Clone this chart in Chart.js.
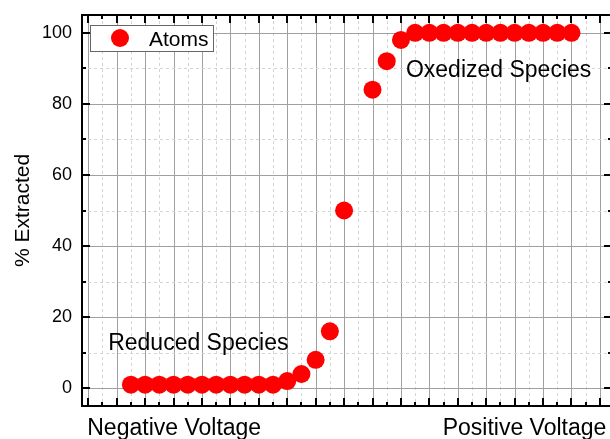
<!DOCTYPE html>
<html>
<head>
<meta charset="utf-8">
<script src="https://cdn.jsdelivr.net/npm/chart.js@4/dist/chart.umd.min.js"></script>
<style>
  html, body { margin: 0; padding: 0; background: #fff; overflow: hidden; }
  #wrap { width: 622px; height: 439px; }
</style>
</head>
<body>
<div id="wrap"><canvas id="chart" width="622" height="439"></canvas></div>
<script>
// data (x = voltage step, no point at step 19)
const voltageSteps = [3, 4, 5, 6, 7, 8, 9, 10, 11, 12, 13, 14, 15, 16, 17, 18,
                      20, 21, 22, 23, 24, 25, 26, 27, 28, 29, 30, 31, 32, 33, 34];
const extracted = [1, 1, 1, 1, 1, 1, 1, 1, 1, 1, 1, 2, 4, 8, 16, 50,
                   84, 92, 98, 100, 100, 100, 100, 100, 100, 100, 100, 100, 100, 100, 100];
const yTicks = [0, 20, 40, 60, 80, 100];
const seriesName = "Atoms";
const axisEnds = ["Negative Voltage", "Positive Voltage"];
const notes = [
  { text: "Reduced Species", x: 1.4, y: 10.7 },
  { text: "Oxedized Species", x: 22.35, y: 87.5 }
];

const FONT = "'Liberation Sans', Arial, sans-serif";

// grid, inward ticks, frame, legend box and text labels
const frame = {
  id: "frame",
  beforeDatasetsDraw(chart) {
    const { ctx, chartArea: a, scales: { x, y } } = chart;
    ctx.save();
    ctx.lineWidth = 1;
    // vertical grid
    for (let v = 0; v <= 36; v++) {
      const px = Math.round(x.getPixelForValue(v)) + 0.5;
      ctx.beginPath();
      if (v % 2 === 0) { ctx.strokeStyle = "#a0a0a0"; ctx.setLineDash([]); }
      else { ctx.strokeStyle = "#d4d4d4"; ctx.setLineDash([3, 3]); }
      ctx.moveTo(px, a.top);
      ctx.lineTo(px, a.bottom);
      ctx.stroke();
    }
    // horizontal grid
    for (let v = 0; v <= 100; v += 10) {
      const py = Math.round(y.getPixelForValue(v)) + 0.5;
      ctx.beginPath();
      if (v % 20 === 0) { ctx.strokeStyle = "#a0a0a0"; ctx.setLineDash([]); }
      else { ctx.strokeStyle = "#d4d4d4"; ctx.setLineDash([3, 3]); }
      ctx.moveTo(a.left, py);
      ctx.lineTo(a.right, py);
      ctx.stroke();
    }
    ctx.restore();
  },
  afterDatasetsDraw(chart) {
    const { ctx, chartArea: a, scales: { x, y } } = chart;
    ctx.save();
    ctx.strokeStyle = "#000";
    ctx.lineWidth = 2;
    ctx.setLineDash([]);
    ctx.beginPath();
    for (let v = 0; v <= 36; v++) {
      const px = Math.round(x.getPixelForValue(v));
      const len = v % 2 === 0 ? 8 : 4;
      ctx.moveTo(px, a.bottom); ctx.lineTo(px, a.bottom - len);
      ctx.moveTo(px, a.top); ctx.lineTo(px, a.top + len);
    }
    for (let v = 0; v <= 100; v += 10) {
      const py = Math.round(y.getPixelForValue(v));
      const len = v % 20 === 0 ? 8 : 4;
      ctx.moveTo(a.left, py); ctx.lineTo(a.left + len, py);
      ctx.moveTo(a.right, py); ctx.lineTo(a.right - len, py);
    }
    ctx.stroke();
    ctx.strokeRect(a.left, a.top, a.right - a.left, a.bottom - a.top);

    // legend
    ctx.lineWidth = 1;
    ctx.fillStyle = "#fff";
    ctx.strokeStyle = "#666";
    ctx.fillRect(90, 25, 123, 26);
    ctx.strokeRect(90.5, 25.5, 123, 26);
    ctx.fillStyle = chart.data.datasets[0].backgroundColor;
    ctx.beginPath();
    ctx.arc(120, 38, 9, 0, Math.PI * 2);
    ctx.fill();
    ctx.fillStyle = "#000";
    ctx.font = "21px " + FONT;
    ctx.textBaseline = "alphabetic";
    ctx.textAlign = "left";
    ctx.fillText(chart.data.datasets[0].label, 149, 46);

    // annotations
    ctx.font = "23px " + FONT;
    notes.forEach(n => {
      ctx.fillText(n.text, x.getPixelForValue(n.x), y.getPixelForValue(n.y));
    });

    // x axis end labels
    ctx.fillText(axisEnds[0], x.getPixelForValue(-0.07), 435);
    ctx.textAlign = "right";
    ctx.fillText(axisEnds[1], x.getPixelForValue(36.45), 435);
    ctx.restore();
  }
};

new Chart(document.getElementById("chart"), {
  type: "scatter",
  data: {
    datasets: [{
      label: seriesName,
      data: voltageSteps.map((v, i) => ({ x: v, y: extracted[i] })),
      backgroundColor: "#ff0000",
      borderWidth: 0,
      pointRadius: 9,
      pointHoverRadius: 9
    }]
  },
  options: {
    responsive: false,
    animation: false,
    devicePixelRatio: 1,
    layout: { padding: { top: 15, bottom: 33, right: 10, left: 0 } },
    plugins: { legend: { display: false }, tooltip: { enabled: false } },
    scales: {
      x: { type: "linear", display: false, min: -0.44, max: 36.85 },
      y: {
        min: -5,
        max: 105,
        grid: { display: false, drawTicks: false },
        border: { display: false },
        afterBuildTicks: s => { s.ticks = yTicks.map(v => ({ value: v })); },
        ticks: { padding: 10, color: "#000", font: { family: FONT, size: 18 } },
        title: {
          display: true,
          text: "% Extracted",
          color: "#000",
          font: { family: FONT, size: 21 },
          padding: { top: 11, bottom: 0 }
        },
        afterFit: s => { s.width = 82; s.paddingTop = 0; s.paddingBottom = 0; }
      }
    }
  },
  plugins: [frame]
});
</script>
</body>
</html>
